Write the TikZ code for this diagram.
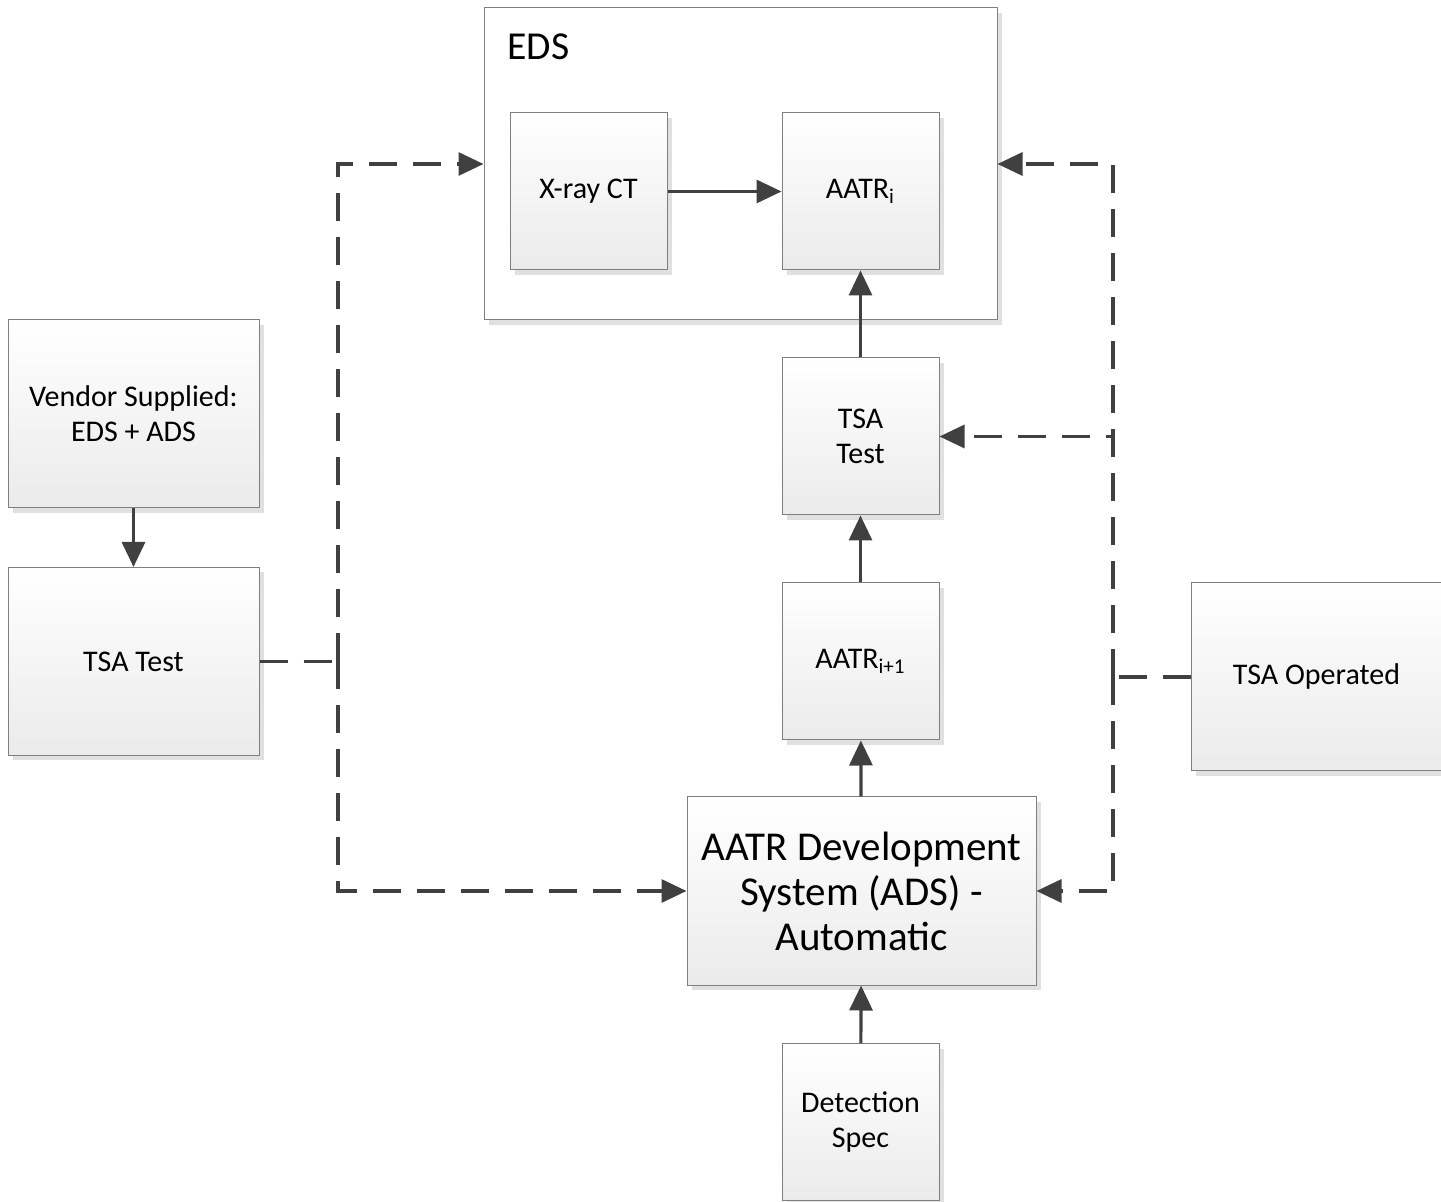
\documentclass[tikz,border=0pt]{standalone}
\usepackage{fontspec}
\setmainfont{Carlito}
\usetikzlibrary{arrows.meta,shadows}
\definecolor{linegray}{HTML}{404040}
\definecolor{boxline}{HTML}{7F7F7F}

\begin{document}
\begin{tikzpicture}[x=0.5pt, y=-0.5pt,
	shade/.style={drop shadow={shadow xshift=2.5pt, shadow yshift=-2.5pt, fill=black!12, opacity=1}},
	block/.style={shade, draw=boxline, line width=0.5pt, top color=white, bottom color=black!8,
		minimum width=78.5pt, minimum height=78.5pt, inner sep=0pt, align=center,
		font=\fontsize{15}{17.5}\selectfont},
	wide/.style={block, minimum width=125.5pt, minimum height=94pt},
	flow/.style={draw=linegray, line width=1.6pt, -{Triangle[length=12.5pt, width=11.5pt]}},
	link/.style={flow, dash pattern=on 14pt off 8pt}]
	\useasboundingbox (0,0) rectangle (1441,1202);

	\node [shade, draw=boxline, line width=0.5pt, fill=white, minimum width=256.5pt, minimum height=156pt] (eds) at (740.5,164) {};
	\node [anchor=west, font=\fontsize{19.8}{22}\selectfont, inner sep=0pt] (edsname) at (507,47) {EDS};

	\node [block] (xray) at (588.5,191.5) {X-ray CT};
	\node [block] (aatr) at (860.5,191.5) {AATR\textsubscript{i}};
	\node [block] (test) at (860.5,436.5) {TSA\\Test};
	\node [block] (aatrnext) at (860.5,661.5) {AATR\textsubscript{i+1}};
	\node [block, minimum width=174.5pt, minimum height=94pt, font=\fontsize{20.5}{22.5}\selectfont] (ads) at (861.5,891) {AATR Development\\System (ADS) -\\Automatic};
	\node [block] (spec) at (860.5,1122) {Detection\\Spec};
	\node [wide] (vendor) at (133.5,414) {Vendor Supplied:\\EDS + ADS};
	\node [wide] (tsatest) at (133.5,661.5) {TSA Test};
	\node [wide] (tsaop) at (1316.5,677) {TSA Operated};

	\draw [flow] (xray) -- (aatr);
	\draw [flow] (test) -- (aatr);
	\draw [flow] (aatrnext) -- (test);
	\draw [flow] (ads) -- (aatrnext);
	\draw [flow] (spec) -- (ads);
	\draw [flow] (vendor) -- (tsatest);

	\coordinate (leftbus) at (338,661.5);
	\coordinate (rightbus) at (1113,677);
	\draw [link, -] (tsatest.east) -- (leftbus);
	\draw [link] (leftbus) |- (eds.west);
	\draw [link] (leftbus) |- (ads.west);
	\draw [link, -] (tsaop.west) -- (rightbus);
	\draw [link] (rightbus) |- (eds.east);
	\draw [link] (rightbus) |- (test.east);
	\draw [link] (rightbus) |- (ads.east);
\end{tikzpicture}
\end{document}
